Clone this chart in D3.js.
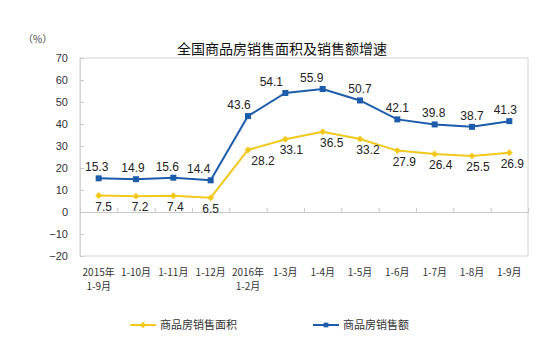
<!DOCTYPE html>
<html>
<head>
<meta charset="utf-8">
<script src="https://cdn.jsdelivr.net/npm/d3@7/dist/d3.min.js"></script>
<style>
  html, body { margin: 0; padding: 0; background: #fff; }
  svg { display: block; }
  text { font-family: "Liberation Sans", Arial, "Noto Sans CJK SC", sans-serif; }
  .cjk { font-family: "Noto Sans CJK SC", "Liberation Sans", sans-serif; }
</style>
</head>
<body>
<svg id="chart" width="550" height="349"></svg>
<script>
// Periods (cumulative months); "\n" splits a label across two lines
const categories = ["2015年\n1-9月", "1-10月", "1-11月", "1-12月", "2016年\n1-2月",
  "1-3月", "1-4月", "1-5月", "1-6月", "1-7月", "1-8月", "1-9月"];
// Year-on-year growth (%)
const areaGrowth = [7.5, 7.2, 7.4, 6.5, 28.2, 33.1, 36.5, 33.2, 27.9, 26.4, 25.5, 26.9];
const amountGrowth = [15.3, 14.9, 15.6, 14.4, 43.6, 54.1, 55.9, 50.7, 42.1, 39.8, 38.7, 41.3];
const yTicks = [-20, -10, 0, 10, 20, 30, 40, 50, 60, 70];
const seriesNames = ["商品房销售面积", "商品房销售额"];

// Hand-placed label nudges (px) so labels clear the lines
const amountLabelDx = [-2, -3, -6, -12, -9, -14, -11, 0, 0, -1, 0, -4];
const areaLabelDx = [5, 4, 2, 0, 15, 6, 9, 8, 7, 6, 6, 3];

const YELLOW = "#F2C81E";
const BLUE = "#1C5CAB";

const svg = d3.select("#chart");
const plot = { left: 80, right: 528, top: 58, bottom: 256 };

const x = d3.scaleBand().domain(categories).range([plot.left, plot.right]);
const cx = d => x(d) + x.bandwidth() / 2;
const y = d3.scaleLinear().domain([-20, 70]).range([plot.bottom, plot.top]);

// Title and unit
svg.append("text").attr("class", "cjk")
  .attr("x", 282).attr("y", 54).attr("text-anchor", "middle")
  .attr("font-size", 14).attr("fill", "#111")
  .text("全国商品房销售面积及销售额增速");
svg.append("text").attr("class", "cjk")
  .attr("x", 23).attr("y", 43)
  .attr("font-size", 10).attr("fill", "#444")
  .text("（%）");

// Plot frame
svg.append("rect")
  .attr("x", plot.left).attr("y", plot.top)
  .attr("width", plot.right - plot.left).attr("height", plot.bottom - plot.top)
  .attr("fill", "none").attr("stroke", "#d4d4d4").attr("stroke-width", 1);

// Y axis: inward ticks, labels on the left
const yAxis = svg.append("g")
  .attr("transform", `translate(${plot.left},0)`)
  .call(d3.axisLeft(y).tickValues(yTicks).tickSize(-4).tickPadding(12));
yAxis.select(".domain").attr("stroke", "#d4d4d4");
yAxis.selectAll(".tick line").attr("stroke", "#c8c8c8");
yAxis.selectAll(".tick text").attr("font-size", 11).attr("fill", "#333")
  .attr("font-family", "'Liberation Sans', Arial, sans-serif");

// Zero baseline with tick marks between categories
const xIndex = d3.scaleLinear().domain([0, categories.length]).range([plot.left, plot.right]);
const zeroAxis = svg.append("g")
  .attr("transform", `translate(0,${y(0)})`)
  .call(d3.axisBottom(xIndex).tickValues(d3.range(1, categories.length + 1))
    .tickSize(-4).tickFormat(""));
zeroAxis.select(".domain").attr("stroke", "#c8c8c8");
zeroAxis.selectAll(".tick line").attr("stroke", "#c8c8c8");

// Category labels below the frame; two-line labels get a second text row
const xAxis = svg.append("g")
  .attr("transform", `translate(0,${plot.bottom})`)
  .call(d3.axisBottom(x).tickSize(0).tickPadding(13).tickFormat(d => d.split("\n")[0]));
xAxis.select(".domain").remove();
xAxis.selectAll(".tick text")
  .attr("class", "cjk")
  .attr("font-size", 10).attr("fill", "#333");
xAxis.selectAll(".tick")
  .filter(d => d.includes("\n"))
  .append("text")
  .attr("class", "cjk")
  .attr("y", 13 + 14).attr("dy", "0.71em")
  .attr("text-anchor", "middle")
  .attr("font-size", 10).attr("fill", "#333")
  .text(d => d.split("\n")[1]);

// Series lines
const line = vals => d3.line()
  .x((v, i) => cx(categories[i]))
  .y(v => y(v))(vals);

svg.append("path").attr("d", line(areaGrowth))
  .attr("fill", "none").attr("stroke", YELLOW).attr("stroke-width", 2);
svg.append("path").attr("d", line(amountGrowth))
  .attr("fill", "none").attr("stroke", BLUE).attr("stroke-width", 2);

// Markers: diamonds for area, squares for amount
svg.append("g").selectAll("path").data(areaGrowth).join("path")
  .attr("d", d3.symbol().type(d3.symbolSquare).size(24))
  .attr("transform", (v, i) => `translate(${cx(categories[i])},${y(v)}) rotate(45)`)
  .attr("fill", YELLOW);
svg.append("g").selectAll("rect").data(amountGrowth).join("rect")
  .attr("x", (v, i) => cx(categories[i]) - 3)
  .attr("y", v => y(v) - 3)
  .attr("width", 6).attr("height", 6)
  .attr("fill", BLUE);

// Value labels
svg.append("g").selectAll("text").data(amountGrowth).join("text")
  .attr("x", (v, i) => cx(categories[i]) + amountLabelDx[i])
  .attr("y", v => y(v) - 7)
  .attr("text-anchor", "middle")
  .attr("font-size", 12).attr("fill", "#222")
  .text(v => v.toFixed(1));
svg.append("g").selectAll("text").data(areaGrowth).join("text")
  .attr("x", (v, i) => cx(categories[i]) + areaLabelDx[i])
  .attr("y", v => y(v) + 15)
  .attr("text-anchor", "middle")
  .attr("font-size", 12).attr("fill", "#222")
  .text(v => v.toFixed(1));

// Legend
const legend = [
  { name: seriesNames[0], color: YELLOW, x0: 130, shape: "diamond" },
  { name: seriesNames[1], color: BLUE, x0: 313, shape: "square" }
];
const lg = svg.append("g").selectAll("g").data(legend).join("g")
  .attr("transform", d => `translate(${d.x0},325)`);
lg.append("line").attr("x1", 0).attr("x2", 26).attr("y1", 0).attr("y2", 0)
  .attr("stroke", d => d.color).attr("stroke-width", 2);
lg.append("path")
  .attr("d", d3.symbol().type(d3.symbolSquare).size(22))
  .attr("transform", d => d.shape === "diamond" ? "translate(13,0) rotate(45)" : "translate(13,0)")
  .attr("fill", d => d.color);
lg.append("text").attr("class", "cjk")
  .attr("x", 30).attr("y", 4)
  .attr("font-size", 11).attr("fill", "#333")
  .text(d => d.name);
</script>
</body>
</html>
